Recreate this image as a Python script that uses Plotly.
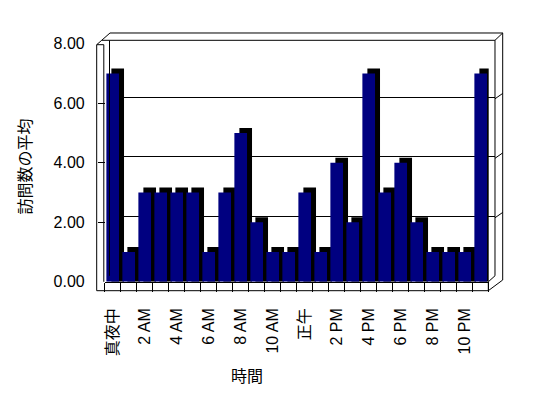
import numpy as np
import plotly.graph_objects as go

# ---- data ----
hours = list(range(24))
avg_visits = [7, 1, 3, 3, 3, 3, 1, 3, 5, 2, 1, 1, 3, 1, 4, 2, 7, 3, 4, 2, 1, 1, 1, 7]
tick_positions = list(range(0, 24, 2))
tick_labels = ["真夜中", "2 AM", "4 AM", "6 AM", "8 AM", "10 AM",
               "正午", "2 PM", "4 PM", "6 PM", "8 PM", "10 PM"]
y_ticks = [0, 2, 4, 6, 8]
y_tick_labels = ["0.00", "2.00", "4.00", "6.00", "8.00"]
grid_vals = [2, 4, 6]
y_title = "訪問数の平均"
x_title = "時間"

W, H = 548, 398
def fx(px):
    return px / W
def fy(py):
    return 1 - py / H

# layout geometry (pixels)
FX0, FX1 = 104.7, 488.7          # front plane x
FY0, FY8 = 281.8, 43.8           # front plane y for 0 and 8
DY = 6.0                         # depth offset
BX0, BX1 = 109.5, 495.0          # back wall x
px_per_unit = (FY0 - FY8) / 8.0
cat_px = (FX1 - FX0) / 24.0
depth_y = 5.0 / px_per_unit
depth_x = 5.0 / cat_px
bar_w = 0.79
bar_off = -bar_w / 2

FONT = "Arial, 'Liberation Sans', 'Noto Sans CJK JP', sans-serif"

fig = go.Figure()

# depth (black) part of each bar
fig.add_trace(go.Bar(
    x=hours, y=np.array(avg_visits) + depth_y, base=0,
    offset=bar_off + depth_x, width=bar_w,
    marker=dict(color="black", line=dict(width=0)),
    xaxis="x2", yaxis="y2", hoverinfo="skip", showlegend=False))
# front face
fig.add_trace(go.Bar(
    x=hours, y=avg_visits,
    offset=bar_off, width=bar_w,
    marker=dict(color="#000080", line=dict(width=0)),
    xaxis="x2", yaxis="y2", showlegend=False))

shapes = []
def path(pts, close=False):
    d = "M " + " L ".join(f"{fx(x):.5f},{fy(y):.5f}" for x, y in pts)
    if close:
        d += " Z"
    shapes.append(dict(type="path", path=d, xref="paper", yref="paper",
                       line=dict(color="black", width=1), layer="above"))

# back wall front face and top/right edges
path([(BX0, FY0 - DY), (BX0, FY8 - 3.5), (BX1, FY8 - 3.5), (BX1, FY0 - DY)])
path([(101.7, 40.3), (BX0 + 0.5, 33.0), (BX1 + 7.7, 33.0), (BX1 + 7.7, 280.0)])
path([(BX1, FY8 - 3.5), (BX1 + 7.7, 33.0)])
# left wall
path([(96.7, 290.7), (96.7, 44.7), (103.8, 44.7), (103.8, FY0)])
path([(96.7, 44.7), (101.7, 40.3), (BX0, 40.3)])
# floor
path([(96.7, 290.7), (FX1 - 0.4, 290.7), (FX1 - 0.4, FY0)])
path([(FX1 - 0.4, 290.7), (BX1 + 7.7, 280.0)])
path([(FX1 - 0.4, FY0), (BX1, FY0 - DY)])

# little diagonal ticks on back-right edge
for v in grid_vals:
    shapes.append(dict(type="line", xref="x domain", yref="y",
                       x0=1, x1=1 + 7.7 / (BX1 - BX0), y0=v - 0.05, y1=v + 0.13,
                       line=dict(color="black", width=1)))

fig.update_layout(
    width=W, height=H, autosize=False,
    margin=dict(l=0, r=0, t=0, b=0, pad=0, autoexpand=False),
    paper_bgcolor="white",
    plot_bgcolor="rgba(0,0,0,0)",
    barmode="overlay",
    font=dict(family=FONT, size=16, color="black"),
    showlegend=False,
    shapes=shapes,
    # back wall axes (gridlines)
    xaxis=dict(domain=[fx(BX0), fx(BX1)], range=[0, 1], anchor="y",
               showgrid=False, zeroline=False, showticklabels=False,
               ticks="", showline=False, fixedrange=True, automargin=False),
    yaxis=dict(domain=[fy(FY0 - DY), fy(FY8 - DY)], range=[0, 8], anchor="x",
               tickvals=grid_vals, showgrid=True, gridcolor="black", gridwidth=1,
               zeroline=False, showticklabels=False, ticks="", showline=False,
               fixedrange=True, automargin=False),
    # front axes (bars)
    xaxis2=dict(domain=[fx(FX0), fx(FX1)], range=[-0.5, 23.5], anchor="y2",
                tickmode="array", tickvals=tick_positions, ticktext=tick_labels,
                tickangle=-90, ticks="", showgrid=False, zeroline=False,
                showline=True, linecolor="black", linewidth=1,
                ticklabelstandoff=19, automargin=False,
                minor=dict(tickmode="linear", tick0=0.5, dtick=1, ticks="outside",
                           ticklen=9, tickcolor="black", tickwidth=1, showgrid=False),
                tickfont=dict(family=FONT, size=16, color="black"),
                fixedrange=True),
    yaxis2=dict(domain=[fy(FY0), fy(FY8)], range=[0, 8], anchor="free",
                position=fx(96.7), tickmode="array", tickvals=y_ticks,
                ticktext=y_tick_labels, ticks="inside", ticklen=7,
                tickcolor="black", tickwidth=1, showgrid=False, zeroline=False,
                showline=False, ticklabelstandoff=12, automargin=False,
                tickfont=dict(family=FONT, size=16, color="black"),
                fixedrange=True),
    annotations=[
        dict(text=y_title, textangle=-90, x=fx(25), y=fy(166.5),
             xanchor="center", yanchor="middle",
             xref="paper", yref="paper", showarrow=False,
             font=dict(family=FONT, size=16, color="black")),
        dict(text=x_title, x=fx(246.7), y=fy(376),
             xanchor="center", yanchor="middle",
             xref="paper", yref="paper",
             showarrow=False, font=dict(family=FONT, size=16, color="black")),
    ],
)

fig.write_html(
    "out.html",
    config={"displayModeBar": False, "staticPlot": True},
    post_script="document.body.style.margin='0';document.body.style.overflow='hidden';",
)
